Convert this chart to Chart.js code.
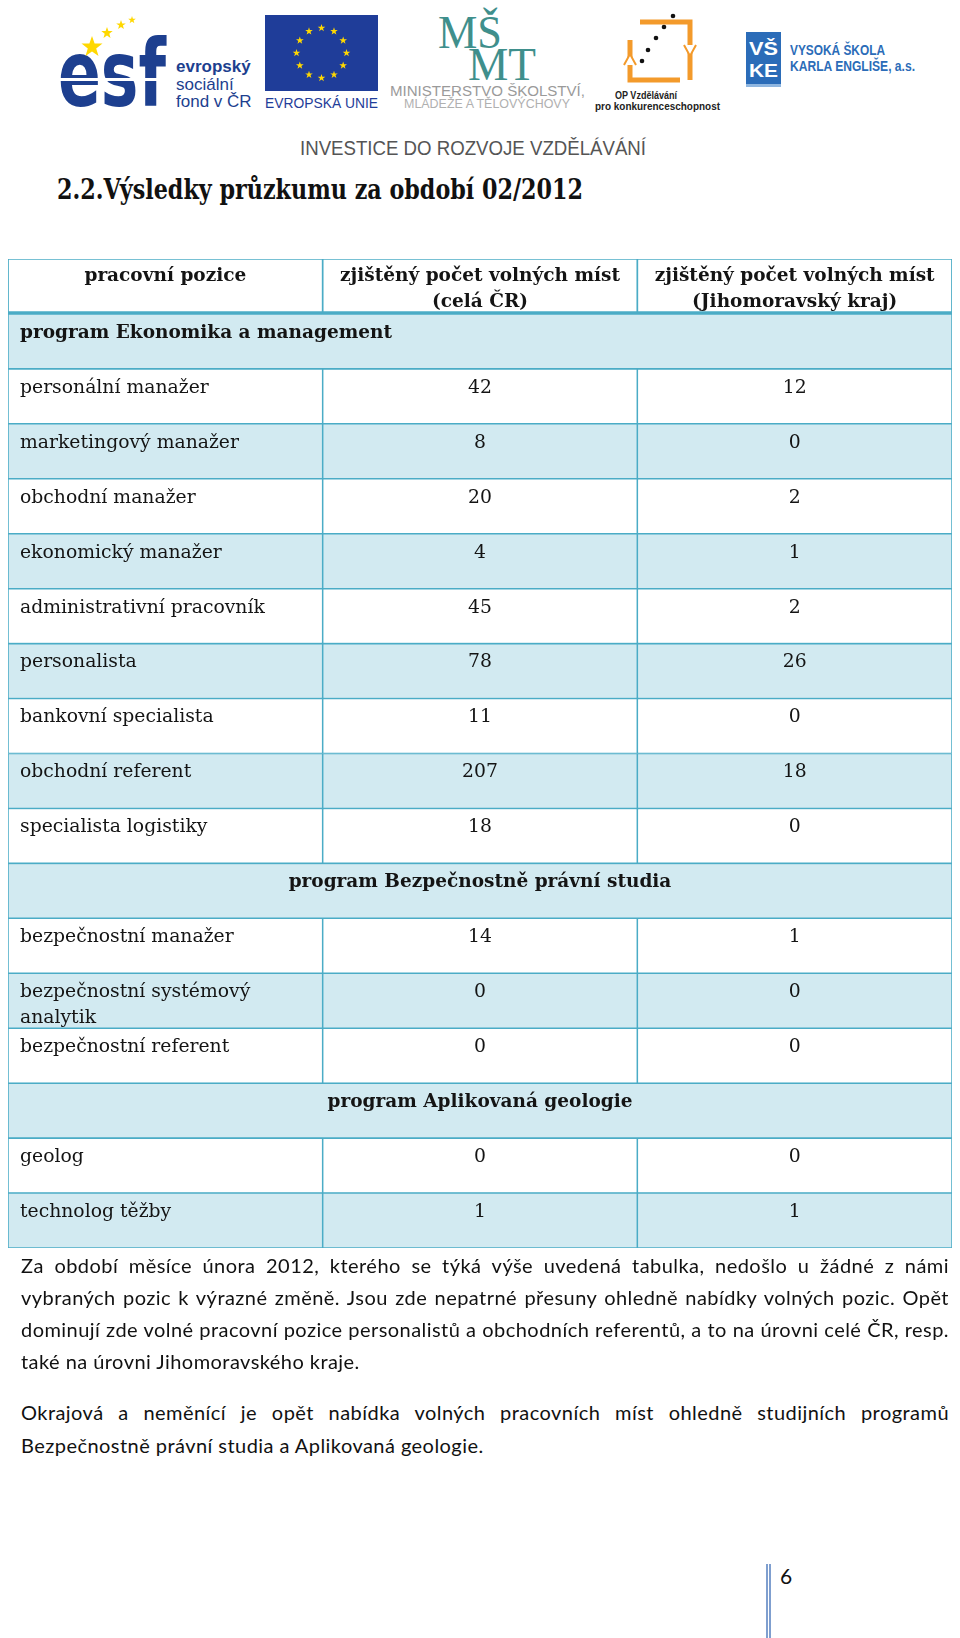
<!DOCTYPE html>
<html lang="cs">
<head>
<meta charset="utf-8">
<script src="https://cdn.jsdelivr.net/npm/chart.js@4.4.1/dist/chart.umd.min.js"></script>
<style>
  html, body { margin: 0; padding: 0; background: #fff; }
  body { position: relative; width: 960px; height: 1638px; overflow: hidden; }
  #logos { position: absolute; left: 0; top: 0; }
  #tableChart { position: absolute; left: 0; top: 250px; }
  .line {
    position: absolute; left: 21px; width: 928px;
    font-family: Lato, "Open Sans", sans-serif; font-size: 20px; letter-spacing: 0.45px; color: #111;
    line-height: 32px; height: 32px; white-space: nowrap;
    text-align: justify; text-align-last: justify;
  }
  .line.last { text-align-last: left; }
  #pageNo { position: absolute; left: 780px; top: 1563px; font-family: Lato, sans-serif; font-size: 21px; color: #111; }
  #pageBar { position: absolute; left: 766px; top: 1564px; width: 1px; height: 74px; border-left: 2px solid #7f9fcf; border-right: 2px solid #7f9fcf; }
</style>
</head>
<body>
<svg id="logos" width="960" height="215" xmlns="http://www.w3.org/2000/svg">
  <!-- esf -->
  <text x="58" y="106" font-family="DejaVu Sans" font-weight="bold" font-size="92" fill="#1d3f8f" textLength="108" lengthAdjust="spacingAndGlyphs">esf</text>
  <rect x="58" y="78" width="110" height="3" fill="#fff"/>
  <g id="esfStars" fill="#ffd800"></g>
  <text x="176" y="72" font-family="Liberation Sans" font-weight="bold" font-size="17" fill="#1d3f8f">evropský</text>
  <text x="176" y="90" font-family="Liberation Sans" font-size="17" fill="#1d3f8f">sociální</text>
  <text x="176" y="107" font-family="Liberation Sans" font-size="17" fill="#1d3f8f">fond v ČR</text>
  <!-- EU -->
  <rect x="265" y="15" width="113" height="76" fill="#1f3d99"/>
  <g id="euStars" fill="#ffd800"></g>
  <text x="265" y="108" font-family="Liberation Sans" font-size="14.5" fill="#1f3d99" textLength="113" lengthAdjust="spacingAndGlyphs">EVROPSKÁ UNIE</text>
  <!-- MSMT -->
  <text x="438" y="48" font-family="Liberation Serif" font-size="46" fill="#3f8f8c" textLength="64" lengthAdjust="spacingAndGlyphs">MŠ</text>
  <text x="468" y="80" font-family="Liberation Serif" font-size="46" fill="#3f8f8c" textLength="68" lengthAdjust="spacingAndGlyphs">MT</text>
  <text x="390" y="96" font-family="Liberation Sans" font-size="14" fill="#9a9a9a" textLength="195" lengthAdjust="spacingAndGlyphs">MINISTERSTVO ŠKOLSTVÍ,</text>
  <text x="404" y="108" font-family="Liberation Sans" font-size="12" fill="#b0b0b0" textLength="166" lengthAdjust="spacingAndGlyphs">MLÁDEŽE A TĚLOVÝCHOVY</text>
  <!-- OP -->
  <path d="M640 22 H690 V80" stroke="#f39a2b" stroke-width="5" fill="none"/>
  <path d="M680 80 H630 V40" stroke="#f39a2b" stroke-width="5" fill="none"/>
  <path d="M684 45 L690 56 L696 45" stroke="#f39a2b" stroke-width="2" fill="#fff"/>
  <path d="M624 65 L630 54 L636 65" stroke="#f39a2b" stroke-width="2" fill="#fff"/>
  <g fill="#111"><circle cx="673" cy="16" r="2.3"/><circle cx="664" cy="27" r="2.3"/><circle cx="656" cy="38" r="2.3"/><circle cx="648" cy="50" r="2.3"/><circle cx="642" cy="61" r="2.3"/></g>
  <text x="615" y="99" font-family="Liberation Sans" font-weight="bold" font-size="10" fill="#222" textLength="62" lengthAdjust="spacingAndGlyphs">OP Vzdělávání</text>
  <text x="595" y="110" font-family="Liberation Sans" font-weight="bold" font-size="10" fill="#222" textLength="125" lengthAdjust="spacingAndGlyphs">pro konkurenceschopnost</text>
  <!-- VSKE -->
  <rect x="746" y="32" width="35" height="52" fill="#2b6cb8"/>
  <rect x="746" y="84" width="35" height="3" fill="#8fb6e0"/>
  <text x="749" y="55" font-family="Liberation Sans" font-weight="bold" font-size="19" fill="#fff" textLength="29" lengthAdjust="spacingAndGlyphs">VŠ</text>
  <text x="749" y="77" font-family="Liberation Sans" font-weight="bold" font-size="19" fill="#fff" textLength="29" lengthAdjust="spacingAndGlyphs">KE</text>
  <text x="790" y="55" font-family="Liberation Sans" font-weight="bold" font-size="14" fill="#2b6cb8" textLength="95" lengthAdjust="spacingAndGlyphs">VYSOKÁ ŠKOLA</text>
  <text x="790" y="71" font-family="Liberation Sans" font-weight="bold" font-size="14" fill="#2b6cb8" textLength="125" lengthAdjust="spacingAndGlyphs">KARLA ENGLIŠE, a.s.</text>
  <!-- strip -->
  <text x="300" y="155" font-family="Liberation Sans" font-size="20" fill="#555" textLength="346" lengthAdjust="spacingAndGlyphs">INVESTICE DO ROZVOJE VZDĚLÁVÁNÍ</text>
  <!-- title -->
  <text x="57" y="199" font-family="DejaVu Serif" font-weight="bold" font-size="27" fill="#111" textLength="526" lengthAdjust="spacingAndGlyphs">2.2.Výsledky průzkumu za období 02/2012</text>
</svg>

<canvas id="tableChart" width="960" height="1010"></canvas>

<div class="line" style="top:1249px">Za období měsíce února 2012, kterého se týká výše uvedená tabulka, nedošlo u žádné z námi</div>
<div class="line" style="top:1281px">vybraných pozic k výrazné změně. Jsou zde nepatrné přesuny ohledně nabídky volných pozic. Opět</div>
<div class="line" style="top:1313px">dominují zde volné pracovní pozice personalistů a obchodních referentů, a to na úrovni celé ČR, resp.</div>
<div class="line last" style="top:1345px">také na úrovni Jihomoravského kraje.</div>
<div class="line" style="top:1396px">Okrajová a neměnící je opět nabídka volných pracovních míst ohledně studijních programů</div>
<div class="line last" style="top:1429px">Bezpečnostně právní studia a Aplikovaná geologie.</div>

<div id="pageBar"></div>
<div id="pageNo">6</div>

<script>
// keep each paragraph line inside the text column
document.querySelectorAll('.line').forEach(el => {
    let ls = 0.45;
    while (el.scrollWidth > el.clientWidth && ls > -1) {
        ls -= 0.05;
        el.style.letterSpacing = ls + 'px';
    }
});

// logo stars
function starPath(cx, cy, r) {
    let d = '';
    for (let k = 0; k < 10; k++) {
        const a = -Math.PI / 2 + k * Math.PI / 5;
        const rr = k % 2 === 0 ? r : r * 0.4;
        d += (k === 0 ? 'M' : 'L') + (cx + rr * Math.cos(a)).toFixed(1) + ' ' + (cy + rr * Math.sin(a)).toFixed(1);
    }
    return d + 'Z';
}
const euG = document.getElementById('euStars');
for (let k = 0; k < 12; k++) {
    const a = k * Math.PI / 6;
    const p = document.createElementNS('http://www.w3.org/2000/svg', 'path');
    p.setAttribute('d', starPath(321.5 + 25 * Math.cos(a), 53 + 25 * Math.sin(a), 4));
    euG.appendChild(p);
}
const esfG = document.getElementById('esfStars');
[[92, 47, 11], [107, 33, 6], [121, 25, 5], [132, 20, 4]].forEach(s => {
    const p = document.createElementNS('http://www.w3.org/2000/svg', 'path');
    p.setAttribute('d', starPath(s[0], s[1], s[2]));
    esfG.appendChild(p);
});

// table data
const headers = [
    'pracovní pozice',
    ['zjištěný počet volných míst', '(celá ČR)'],
    ['zjištěný počet volných míst', '(Jihomoravský kraj)']
];
const programs = [
    'program Ekonomika a management',
    'program Bezpečnostně právní studia',
    'program Aplikovaná geologie'
];
const programSizes = [9, 3, 2];
const positions = [
    'personální manažer', 'marketingový manažer', 'obchodní manažer', 'ekonomický manažer',
    'administrativní pracovník', 'personalista', 'bankovní specialista', 'obchodní referent',
    'specialista logistiky',
    'bezpečnostní manažer', ['bezpečnostní systémový', 'analytik'], 'bezpečnostní referent',
    'geolog', 'technolog těžby'
];
const countCR = [42, 8, 20, 4, 45, 78, 11, 207, 18, 14, 0, 0, 0, 1];
const countJMK = [12, 0, 2, 1, 2, 26, 0, 18, 0, 1, 0, 0, 0, 1];

// rows of the table, top to bottom
const rows = [{ kind: 'head', label: headers[0] }];
let p = 0;
programs.forEach((name, g) => {
    rows.push({ kind: 'section', label: name, first: g === 0 });
    for (let k = 0; k < programSizes[g]; k++, p++) {
        rows.push({ kind: 'item', label: positions[p], cr: countCR[p], jmk: countJMK[p] });
    }
});

const borderColor = '#4bacc6';
const bandColor = '#d2eaf1';

const cellText = {
    id: 'cellText',
    afterDatasetsDraw(chart) {
        const { ctx, scales: { x } } = chart;
        const bars = chart.getDatasetMeta(0).data;
        ctx.save();
        ctx.fillStyle = '#141414';
        ctx.textBaseline = 'middle';
        const put = (text, px, top, align) => {
            const lines = Array.isArray(text) ? text : [text];
            ctx.textAlign = align;
            lines.forEach((t, k) => ctx.fillText(String(t), px, top + 19 + k * 26));
        };
        const left = x.getPixelForValue(0) + 12;
        rows.forEach((r, i) => {
            const top = bars[i].y - bars[i].height / 2;
            if (r.kind === 'head') {
                ctx.font = 'bold 18.5px "DejaVu Serif"';
                headers.forEach((h, c) => put(h, x.getPixelForValue(c + 0.5), top - 2, 'center'));
            } else if (r.kind === 'section') {
                ctx.font = 'bold 18.5px "DejaVu Serif"';
                if (r.first) put(r.label, left, top, 'left');
                else put(r.label, x.getPixelForValue(1.5), top, 'center');
            } else {
                ctx.font = '18.8px "DejaVu Serif"';
                put(r.label, left, top, 'left');
                put(r.cr, x.getPixelForValue(1.5), top, 'center');
                put(r.jmk, x.getPixelForValue(2.5), top, 'center');
            }
        });
        ctx.restore();
    }
};

const cellStyle = {
    backgroundColor: ctx => ctx.dataIndex % 2 === 1 ? bandColor : '#ffffff',
    borderColor: borderColor,
    borderWidth: ctx => ctx.dataIndex === 0 ? { top: 1.2, left: 1.2, right: 1.2, bottom: 3 } : 1.1,
    borderSkipped: false,
    barPercentage: 1,
    categoryPercentage: 1,
    grouped: false
};

new Chart(document.getElementById('tableChart'), {
    type: 'bar',
    data: {
        labels: rows.map(r => r.label),
        datasets: [
            { label: 'pozice', data: rows.map(r => r.kind === 'section' ? [0, 3] : [0, 1]), ...cellStyle },
            { label: 'celá ČR', data: rows.map(r => r.kind === 'section' ? null : [1, 2]), ...cellStyle },
            { label: 'Jihomoravský kraj', data: rows.map(r => r.kind === 'section' ? null : [2, 3]), ...cellStyle }
        ]
    },
    options: {
        indexAxis: 'y',
        responsive: false,
        animation: false,
        layout: { padding: { left: 8, right: 8, top: 9, bottom: 12 } },
        scales: {
            x: { type: 'linear', min: 0, max: 3, display: false },
            y: { type: 'category', display: false }
        },
        plugins: {
            legend: { display: false },
            tooltip: { enabled: false }
        }
    },
    plugins: [cellText]
});
</script>
</body>
</html>
